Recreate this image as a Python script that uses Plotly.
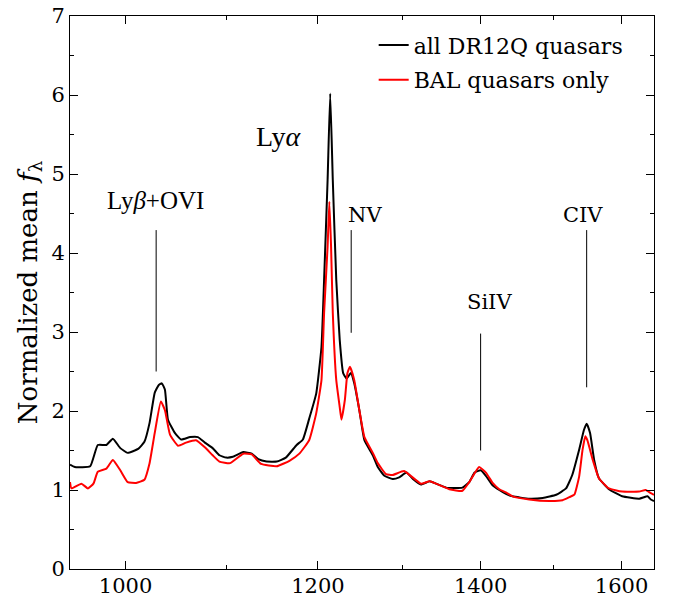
import numpy as np
import plotly.graph_objects as go

# ---- data: composite spectra (rest wavelength in Angstrom, normalized mean flux) ----
wave_all = [948.7, 953, 967, 974, 982, 988, 995, 1002, 1012, 1018, 1023, 1028, 1032, 1035, 1038,
            1041, 1048, 1054, 1063, 1071, 1078, 1086, 1093, 1100, 1107, 1118, 1127, 1134,
            1143, 1154, 1164, 1176, 1183, 1190, 1198, 1204, 1207, 1211, 1214, 1217, 1221,
            1225, 1229, 1233, 1238, 1242, 1248, 1254, 1264, 1270, 1278, 1288, 1296, 1305,
            1313, 1323, 1334, 1342, 1355, 1376, 1385, 1392, 1400, 1407, 1416, 1425, 1434,
            1443, 1466, 1485, 1504, 1518, 1527, 1537, 1544, 1548, 1553, 1559, 1566, 1581,
            1601, 1627, 1640, 1645, 1650]
flux_all = [1.32, 1.29, 1.30, 1.57, 1.57, 1.65, 1.53, 1.47, 1.52, 1.61, 1.85, 2.23, 2.33, 2.35, 2.27,
            1.89, 1.72, 1.64, 1.67, 1.67, 1.60, 1.53, 1.44, 1.41, 1.42, 1.48, 1.46, 1.39,
            1.36, 1.36, 1.41, 1.57, 1.64, 1.90, 2.22, 2.81, 3.66, 4.92, 6.02, 4.92, 3.66,
            2.90, 2.48, 2.41, 2.48, 2.35, 2.01, 1.63, 1.44, 1.29, 1.18, 1.14, 1.16, 1.22,
            1.14, 1.07, 1.11, 1.08, 1.03, 1.03, 1.10, 1.22, 1.25, 1.18, 1.06, 1.00, 0.95,
            0.92, 0.89, 0.90, 0.94, 1.02, 1.19, 1.51, 1.76, 1.84, 1.72, 1.38, 1.15, 1.01,
            0.92, 0.89, 0.92, 0.88, 0.86]

wave_bal = [948.7, 950, 959, 965, 970, 974, 982, 988, 995, 1002, 1010, 1018, 1023, 1028,
            1034, 1038, 1043, 1051, 1059, 1069, 1078, 1086, 1093, 1104, 1118, 1127, 1137,
            1154, 1168, 1179, 1190, 1198, 1204, 1207, 1211, 1213, 1215, 1217, 1221, 1225,
            1227, 1231, 1234, 1237, 1242, 1248, 1254, 1264, 1270, 1280, 1288, 1302, 1323,
            1334, 1359, 1376, 1385, 1398, 1407, 1416, 1425, 1434, 1443, 1466, 1494, 1513,
            1523, 1530, 1537, 1542, 1546, 1549, 1557, 1566, 1581, 1601, 1627, 1637, 1645,
            1650]
flux_bal = [1.10, 1.02, 1.08, 1.02, 1.08, 1.23, 1.27, 1.38, 1.25, 1.10, 1.09, 1.13, 1.34, 1.72,
            2.12, 2.01, 1.70, 1.56, 1.60, 1.63, 1.54, 1.44, 1.36, 1.34, 1.46, 1.45, 1.33,
            1.30, 1.37, 1.46, 1.63, 1.97, 2.39, 3.24, 4.08, 4.65, 4.08, 3.24, 2.39, 2.05,
            1.89, 2.14, 2.48, 2.56, 2.39, 2.01, 1.67, 1.47, 1.34, 1.20, 1.19, 1.24, 1.08,
            1.11, 1.01, 0.99, 1.10, 1.29, 1.22, 1.09, 1.01, 0.97, 0.92, 0.88, 0.86, 0.87,
            0.91, 0.94, 1.17, 1.51, 1.68, 1.63, 1.38, 1.15, 1.02, 0.98, 0.98, 1.00, 0.96,
            0.94]

series_names = ["all DR12Q quasars", "BAL quasars only"]

# emission line markers: label, marker wavelength, line bottom, line top, label position
line_labels = ["Ly<i>β</i>+OVI", "NV", "SiIV", "CIV"]
line_wave = [1029.4, 1238.4, 1400, 1548]
line_y0 = [2.50, 2.99, 1.50, 2.30]
line_y1 = [4.29, 4.29, 2.98, 4.29]
label_wave = [1029, 1255, 1412, 1542]
label_y = [4.67, 4.48, 3.38, 4.48]
lya_label = ("Ly<i>α</i>", 1156, 5.47)

x_major = [1000, 1200, 1400, 1600]
x_minor = [1100, 1300, 1500]
y_major = [0, 1, 2, 3, 4, 5, 6, 7]
y_minor = [0.5, 1.5, 2.5, 3.5, 4.5, 5.5, 6.5]

SERIF = "DejaVu Serif"
fig = go.Figure()

fig.add_trace(go.Scatter(x=wave_all, y=flux_all, mode="lines", name=series_names[0],
                         line=dict(color="black", width=2, shape="spline", smoothing=0.4),
                         legendgroup="a"))
fig.add_trace(go.Scatter(x=wave_bal, y=flux_bal, mode="lines", name=series_names[1],
                         line=dict(color="#ff0000", width=2, shape="spline", smoothing=0.4),
                         legendgroup="b"))

for lab, w, y0, y1, lw, ly in zip(line_labels, line_wave, line_y0, line_y1, label_wave, label_y):
    fig.add_trace(go.Scatter(x=[w, w], y=[y0, y1], mode="lines", showlegend=False,
                             line=dict(color="black", width=1), hoverinfo="skip"))
    is_math = "<i>" in lab
    fig.add_annotation(x=np.log10(lw), y=ly, text=lab, showarrow=False,
                       xref="x", yref="y", xanchor="center",
                       font=dict(family="Liberation Serif" if is_math else SERIF,
                                 size=25 if is_math else 21, color="black"))

fig.add_annotation(x=np.log10(lya_label[1]), y=lya_label[2], text=lya_label[0],
                   showarrow=False, font=dict(family="Liberation Serif", size=28, color="black"))

axis_common = dict(showline=True, linecolor="black", linewidth=1, mirror="allticks",
                   ticks="inside", ticklen=8, tickwidth=1, tickcolor="black",
                   showgrid=False, zeroline=False, automargin=False,
                   tickfont=dict(family=SERIF, size=21, color="black"))

fig.update_xaxes(type="log", range=[np.log10(948.7), np.log10(1650)],
                 tickmode="array", tickvals=x_major, ticktext=[str(v) for v in x_major],
                 ticklabelstandoff=-2,
                 minor=dict(tickmode="array", tickvals=x_minor, ticks="inside", ticklen=4,
                            tickcolor="black", showgrid=False),
                 **axis_common)
fig.update_yaxes(range=[0, 7], tickmode="array", tickvals=y_major,
                 minor=dict(tickmode="array", tickvals=y_minor, ticks="inside", ticklen=4,
                            tickcolor="black", showgrid=False),
                 title=dict(text="Normalized mean <i>f</i><sub>λ</sub>",
                            font=dict(family=SERIF, size=26, color="black"), standoff=6),
                 **axis_common)

fig.update_layout(
    width=680, height=597,
    margin=dict(l=70, r=26, t=16, b=28),
    paper_bgcolor="white", plot_bgcolor="white",
    showlegend=True,
    legend=dict(x=0.52, y=0.985, xanchor="left", yanchor="top",
                bgcolor="rgba(0,0,0,0)", borderwidth=0,
                font=dict(family=SERIF, size=22, color="black"),
                tracegroupgap=3, itemwidth=30),
)

fig.write_html("out.html")
